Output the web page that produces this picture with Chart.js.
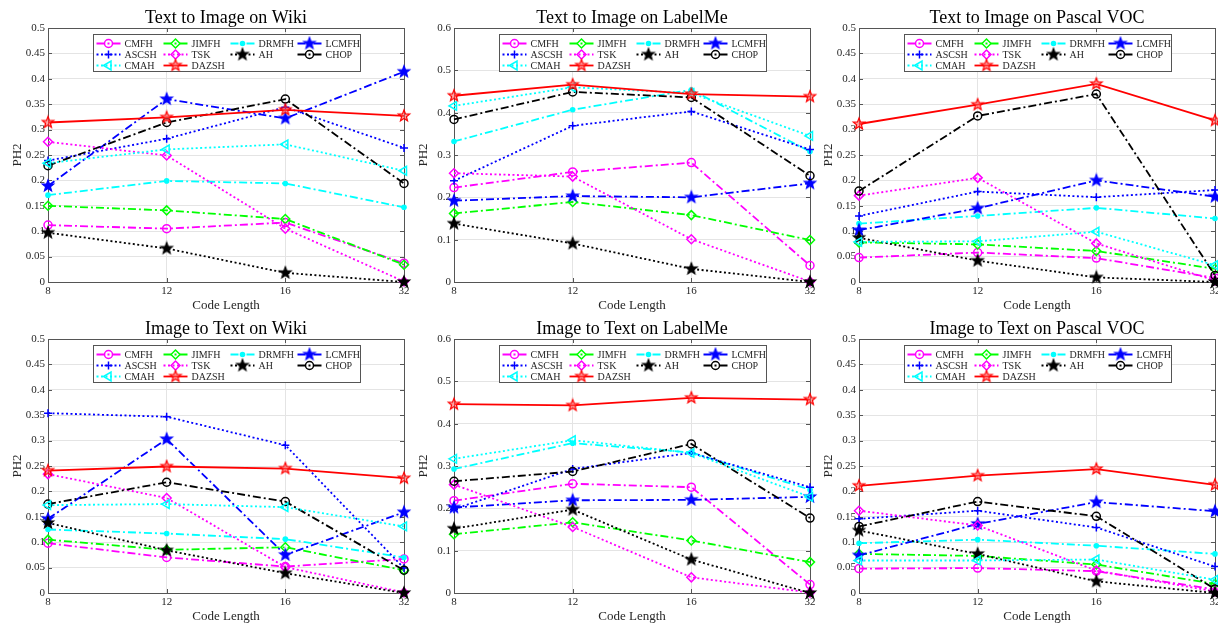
<!DOCTYPE html>
<html>
<head>
<meta charset="utf-8">
<title>PH2 vs Code Length</title>
<script src="https://cdn.jsdelivr.net/npm/chart.js@4.4.1/dist/chart.umd.min.js"></script>
<style>
  html, body { margin: 0; padding: 0; background: #fff; overflow: hidden; width: 1218px; height: 624px; }
  canvas { position: absolute; }
</style>
</head>
<body>
<script>
const codeLengths = ['8', '12', '16', '32'];
const methods = ['CMFH', 'JIMFH', 'DRMFH', 'LCMFH', 'ASCSH', 'TSK', 'AH', 'CHOP', 'CMAH', 'DAZSH'];

// PH2 values, one row per method (same order as methods)
const t2iWiki = [
    [0.112, 0.105, 0.117, 0.037],
    [0.150, 0.141, 0.124, 0.034],
    [0.171, 0.199, 0.194, 0.147],
    [0.189, 0.360, 0.322, 0.414],
    [0.239, 0.282, 0.344, 0.264],
    [0.276, 0.249, 0.105, 0.001],
    [0.097, 0.066, 0.018, 0.000],
    [0.229, 0.314, 0.360, 0.194],
    [0.234, 0.261, 0.271, 0.219],
    [0.314, 0.324, 0.339, 0.327]
];
const t2iLabelMe = [
    [0.223, 0.260, 0.282, 0.039],
    [0.162, 0.189, 0.158, 0.099],
    [0.332, 0.407, 0.454, 0.308],
    [0.192, 0.203, 0.200, 0.233],
    [0.239, 0.369, 0.403, 0.313],
    [0.257, 0.249, 0.101, 0.001],
    [0.138, 0.091, 0.031, 0.000],
    [0.384, 0.449, 0.436, 0.251],
    [0.416, 0.460, 0.446, 0.345],
    [0.440, 0.466, 0.444, 0.438]
];
const t2iVoc = [
    [0.048, 0.058, 0.047, 0.008],
    [0.078, 0.074, 0.061, 0.026],
    [0.115, 0.130, 0.146, 0.125],
    [0.102, 0.145, 0.200, 0.168],
    [0.130, 0.178, 0.167, 0.181],
    [0.170, 0.205, 0.076, 0.003],
    [0.087, 0.042, 0.009, 0.000],
    [0.179, 0.327, 0.370, 0.013],
    [0.079, 0.080, 0.099, 0.033],
    [0.311, 0.349, 0.390, 0.318]
];
const i2tWiki = [
    [0.098, 0.070, 0.052, 0.067],
    [0.105, 0.085, 0.090, 0.045],
    [0.125, 0.117, 0.106, 0.070],
    [0.146, 0.303, 0.075, 0.159],
    [0.354, 0.347, 0.291, 0.049],
    [0.234, 0.187, 0.051, 0.001],
    [0.138, 0.084, 0.039, 0.000],
    [0.175, 0.218, 0.180, 0.045],
    [0.173, 0.175, 0.169, 0.131],
    [0.241, 0.249, 0.245, 0.226]
];
const i2tLabelMe = [
    [0.218, 0.258, 0.250, 0.020],
    [0.139, 0.167, 0.124, 0.073],
    [0.293, 0.354, 0.332, 0.244],
    [0.202, 0.219, 0.220, 0.227],
    [0.198, 0.293, 0.331, 0.250],
    [0.256, 0.156, 0.037, 0.001],
    [0.152, 0.197, 0.079, 0.000],
    [0.264, 0.287, 0.352, 0.177],
    [0.317, 0.361, 0.331, 0.227],
    [0.446, 0.443, 0.461, 0.457]
];
const i2tVoc = [
    [0.048, 0.049, 0.043, 0.007],
    [0.077, 0.073, 0.056, 0.018],
    [0.098, 0.105, 0.093, 0.077],
    [0.074, 0.136, 0.179, 0.161],
    [0.146, 0.162, 0.129, 0.052],
    [0.162, 0.133, 0.044, 0.003],
    [0.123, 0.077, 0.023, 0.000],
    [0.131, 0.180, 0.151, 0.008],
    [0.064, 0.064, 0.066, 0.026],
    [0.211, 0.231, 0.244, 0.213]
];

// matlab-ish line specs
const lineColors = ['#ff00ff', '#00ff00', '#00ffff', '#0000ff', '#0000ff', '#ff00ff', '#000000', '#000000', '#00ffff', '#ff0000'];
const lineTypes = ['-.', '-.', '-.', '-.', ':', ':', ':', '-.', ':', '-'];
const markers = ['o', 'd', '.', 'p', '+', 'd', 'p', 'o', '<', 'p'];

const panels = [
    {title: 'Text to Image on Wiki', rows: t2iWiki, max: 0.5, step: 0.05, col: 0, row: 0},
    {title: 'Text to Image on LabelMe', rows: t2iLabelMe, max: 0.6, step: 0.1, col: 1, row: 0},
    {title: 'Text to Image on Pascal VOC', rows: t2iVoc, max: 0.5, step: 0.05, col: 2, row: 0},
    {title: 'Image to Text on Wiki', rows: i2tWiki, max: 0.5, step: 0.05, col: 0, row: 1},
    {title: 'Image to Text on LabelMe', rows: i2tLabelMe, max: 0.6, step: 0.1, col: 1, row: 1},
    {title: 'Image to Text on Pascal VOC', rows: i2tVoc, max: 0.5, step: 0.05, col: 2, row: 1}
];

const colLeft = [48, 454, 859];
const rowTop = [28, 339];
const AXIS = '#555555';
const TEXT = '#262626';

Chart.defaults.font.family = '"Liberation Serif", "Times New Roman", serif';
Chart.defaults.color = TEXT;

function dashFor(t) {
    if (t === '-.') return [8, 3, 2, 3];
    if (t === ':') return [2, 2.5];
    return [];
}

function pentagram(color, fill) {
    var r = 6, size = 16;
    var c = document.createElement('canvas');
    c.width = size;
    c.height = size;
    var g = c.getContext('2d');
    g.beginPath();
    for (var k = 0; k < 10; k++) {
        var rad = k % 2 ? r * 0.42 : r;
        var a = -Math.PI / 2 + k * Math.PI / 5;
        var px = size / 2 + rad * Math.cos(a), py = size / 2 + rad * Math.sin(a);
        if (k) g.lineTo(px, py); else g.moveTo(px, py);
    }
    g.closePath();
    g.fillStyle = fill;
    g.fill();
    g.lineWidth = 1.2;
    g.strokeStyle = color;
    g.stroke();
    return c;
}

function markerOpts(m, color) {
    switch (m) {
        case 'o': return {pointStyle: 'circle', pointRadius: 4, pointBackgroundColor: 'rgba(0,0,0,0)', pointBorderWidth: 1.5};
        case 'd': return {pointStyle: 'rectRot', pointRadius: 4.5, pointBackgroundColor: 'rgba(0,0,0,0)', pointBorderWidth: 1.5};
        case '.': return {pointStyle: 'circle', pointRadius: 2.8, pointBackgroundColor: color, pointBorderWidth: 0};
        case '+': return {pointStyle: 'cross', pointRadius: 4, pointBackgroundColor: color, pointBorderWidth: 1.5};
        case '<': return {pointStyle: 'triangle', pointRadius: 5, pointRotation: -90, pointBackgroundColor: 'rgba(0,0,0,0)', pointBorderWidth: 1.5};
        default: return {pointStyle: pentagram(color, color === '#ff0000' ? 'rgba(255,90,90,0.55)' : color), pointRadius: 6, pointBackgroundColor: color, pointBorderWidth: 0};
    }
}

function drawMarker(ctx, ds, x, y) {
    ctx.setLineDash([]);
    ctx.lineWidth = ds.pointBorderWidth;
    ctx.strokeStyle = ds.borderColor;
    ctx.fillStyle = ds.pointBackgroundColor;
    if (Chart.helpers && Chart.helpers.drawPoint) {
        Chart.helpers.drawPoint(ctx, {
            pointStyle: ds.pointStyle,
            radius: ds.pointRadius,
            rotation: ds.pointRotation || 0,
            borderWidth: ds.pointBorderWidth
        }, x, y);
    }
}

// axes box + inward tick marks, drawn under the lines
const frame = {
    id: 'frame',
    beforeDatasetsDraw(chart) {
        const ctx = chart.ctx, a = chart.chartArea, sx = chart.scales.x, sy = chart.scales.y;
        ctx.save();
        ctx.strokeStyle = AXIS;
        ctx.lineWidth = 1;
        ctx.beginPath();
        sy.ticks.forEach(function (t) {
            var y = Math.round(sy.getPixelForValue(t.value)) + 0.5;
            ctx.moveTo(a.left, y); ctx.lineTo(a.left + 4, y);
            ctx.moveTo(a.right, y); ctx.lineTo(a.right - 4, y);
        });
        codeLengths.forEach(function (c, i) {
            var x = Math.round(sx.getPixelForValue(i)) + 0.5;
            ctx.moveTo(x, a.bottom); ctx.lineTo(x, a.bottom - 4);
            ctx.moveTo(x, a.top); ctx.lineTo(x, a.top + 4);
        });
        ctx.stroke();
        ctx.strokeRect(Math.round(a.left) + 0.5, Math.round(a.top) + 0.5, Math.round(a.width), Math.round(a.height));
        ctx.restore();
    }
};

// boxed legend inside the plot, 4 columns like the matlab one
const boxLegend = {
    id: 'boxLegend',
    afterDatasetsDraw(chart) {
        const ctx = chart.ctx, a = chart.chartArea;
        var w = 267, h = 37;
        var x0 = Math.round((a.left + a.right) / 2 - w / 2) + 0.5;
        var y0 = Math.round(a.top) + 6.5;
        ctx.save();
        ctx.fillStyle = '#fff';
        ctx.fillRect(x0, y0, w, h);
        ctx.strokeStyle = AXIS;
        ctx.lineWidth = 1;
        ctx.strokeRect(x0, y0, w, h);
        chart.data.datasets.forEach(function (ds, i) {
            var lx = x0 + 3 + (i % 4) * 67;
            var ly = y0 + 9 + Math.floor(i / 4) * 11;
            ctx.strokeStyle = ds.borderColor;
            ctx.lineWidth = ds.borderWidth;
            ctx.setLineDash(ds.borderDash);
            ctx.beginPath();
            ctx.moveTo(lx, ly);
            ctx.lineTo(lx + 24, ly);
            ctx.stroke();
            drawMarker(ctx, ds, lx + 12, ly);
            ctx.fillStyle = TEXT;
            ctx.font = '10px "Liberation Serif"';
            ctx.textBaseline = 'middle';
            ctx.textAlign = 'left';
            ctx.fillText(ds.label, lx + 28, ly + 0.5);
        });
        ctx.restore();
    }
};

function buildDatasets(rows) {
    var sets = [];
    for (var i = 0; i < methods.length; i++) {
        var color = lineColors[i];
        sets.push(Object.assign({
            label: methods[i],
            data: rows[i],
            borderColor: color,
            pointBorderColor: color,
            backgroundColor: color,
            borderWidth: 1.8,
            borderDash: dashFor(lineTypes[i]),
            tension: 0,
            fill: false,
            clip: false,
            order: methods.length - i
        }, markerOpts(markers[i], color)));
    }
    return sets;
}

panels.forEach(function (p) {
    var cv = document.createElement('canvas');
    cv.width = 424;
    cv.height = 314;
    cv.style.left = (colLeft[p.col] - 48) + 'px';
    cv.style.top = (rowTop[p.row] - 28) + 'px';
    document.body.appendChild(cv);

    new Chart(cv, {
        type: 'line',
        data: {labels: codeLengths, datasets: buildDatasets(p.rows)},
        options: {
            responsive: false,
            devicePixelRatio: 1,
            animation: false,
            layout: {padding: {left: 0, top: 0, right: 20, bottom: 0}},
            scales: {
                x: {
                    offset: false,
                    ticks: {padding: 3, font: {size: 11}, maxRotation: 0, autoSkip: false},
                    grid: {color: '#e4e4e4', drawTicks: false},
                    border: {display: false},
                    title: {display: true, text: 'Code Length', font: {size: 13, lineHeight: 1}, padding: {top: 0, bottom: 2}},
                    afterFit: function (s) { s.height = 32; }
                },
                y: {
                    min: 0,
                    max: p.max,
                    ticks: {
                        stepSize: p.step,
                        padding: 3,
                        font: {size: 11},
                        callback: function (v) { return String(Math.round(v * 100) / 100); }
                    },
                    grid: {color: '#e4e4e4', drawTicks: false},
                    border: {display: false},
                    title: {display: true, text: 'PH2', font: {size: 13, lineHeight: 1}, padding: {top: 11, bottom: 0}},
                    afterFit: function (s) { s.width = 48; }
                }
            },
            plugins: {
                title: {
                    display: true,
                    fullSize: false,
                    text: p.title,
                    color: '#000',
                    font: {size: 18, weight: 'normal', lineHeight: 1},
                    padding: {top: 9, bottom: 1}
                },
                legend: {display: false},
                tooltip: {enabled: false}
            }
        },
        plugins: [frame, boxLegend]
    });
});
</script>
</body>
</html>
